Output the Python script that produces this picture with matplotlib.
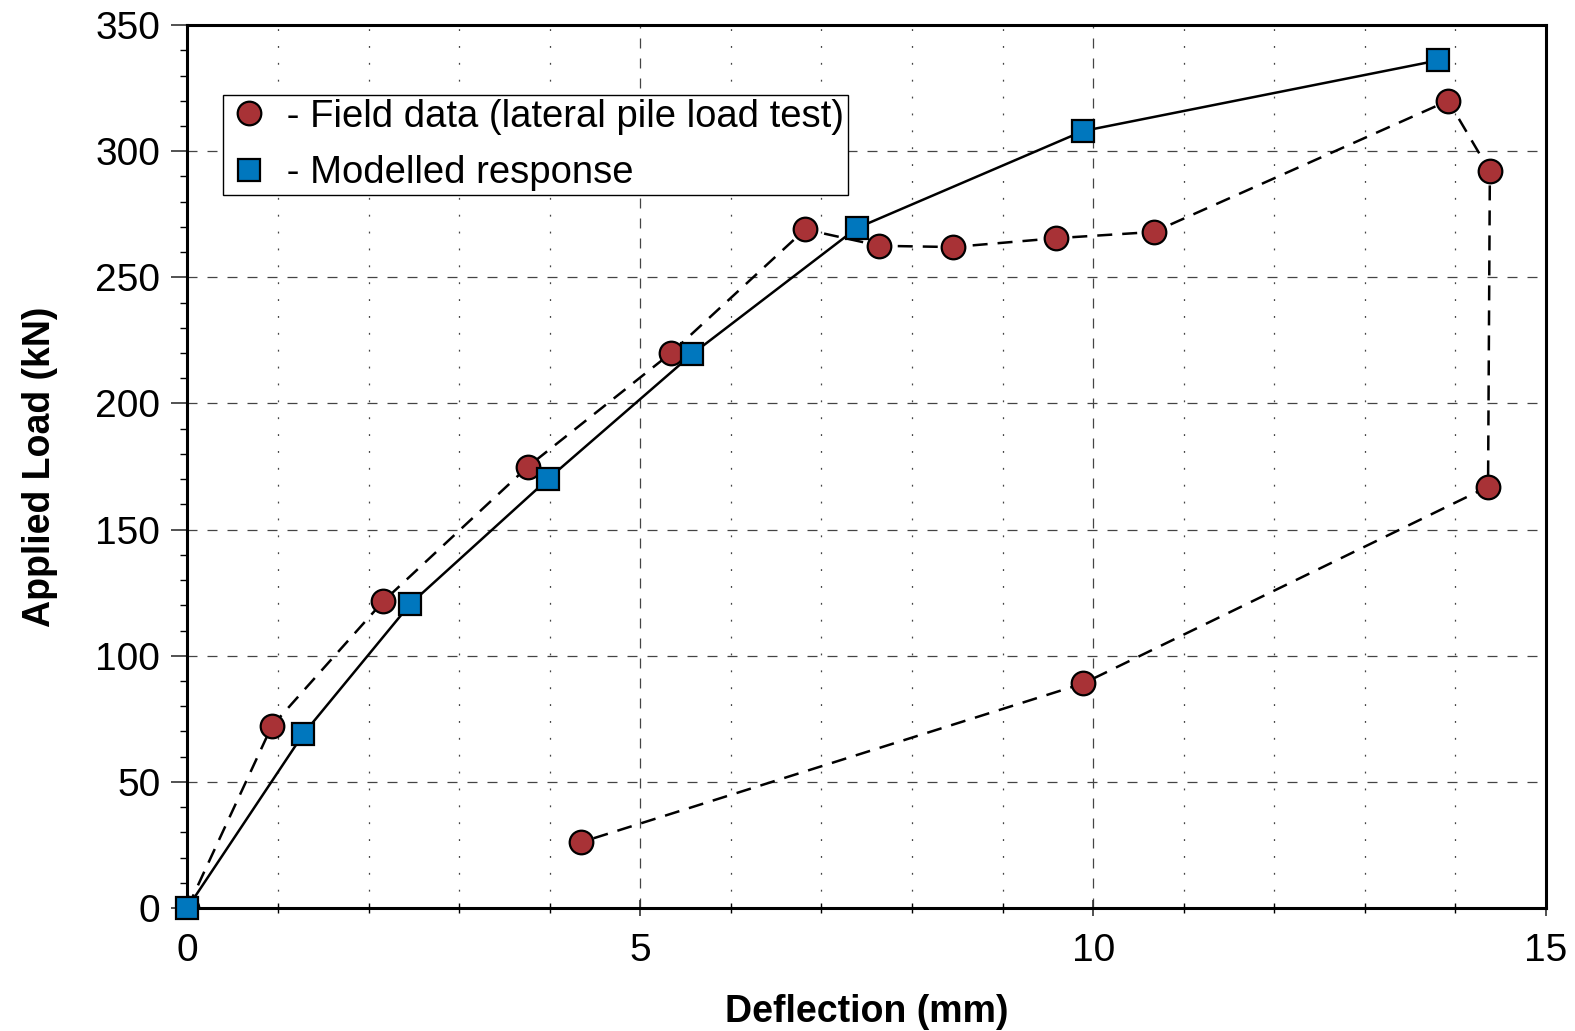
import matplotlib
matplotlib.use("Agg")
import matplotlib.pyplot as plt
from matplotlib.ticker import MultipleLocator

plt.rcParams['font.family'] = ['Liberation Sans', 'DejaVu Sans']

# field data (lateral pile load test), loading then unloading
field_defl = [0, 0.93, 2.16, 3.76, 5.34, 6.82, 7.64, 8.45, 9.59, 10.67,
              13.92, 14.38, 14.36, 9.89, 4.34]
field_load = [0, 72, 121.5, 175, 220, 269, 262.5, 262, 265.5, 268,
              320, 292, 167, 89, 26]

# modelled response
model_defl = [0, 1.28, 2.46, 3.98, 5.57, 7.39, 9.89, 13.81]
model_load = [0, 69, 120.5, 170, 219.5, 269.5, 308, 336]

red = '#a83236'
blue = '#0077be'

fig = plt.figure(figsize=(15.75, 10.31), dpi=100)
ax = fig.add_axes([0.119, 0.1193, 0.8626, 0.8564])

ax.plot(field_defl, field_load, color='k', lw=1.8, ls=(0, (6, 4)), zorder=3)
ax.plot(model_defl, model_load, color='k', lw=1.8, zorder=3)
ax.plot(field_defl, field_load, 'o', ms=17, mfc=red, mec='k', mew=1.6,
        label=' - Field data (lateral pile load test)', zorder=4)
ax.plot(model_defl, model_load, 's', ms=16, mfc=blue, mec='k', mew=1.6,
        label=' - Modelled response', zorder=5, clip_on=False)

ax.set_xlim(0, 15)
ax.set_ylim(0, 350)
ax.xaxis.set_major_locator(MultipleLocator(5))
ax.xaxis.set_minor_locator(MultipleLocator(1))
ax.yaxis.set_major_locator(MultipleLocator(50))
ax.yaxis.set_minor_locator(MultipleLocator(10))

ax.grid(which='major', color='#444444', lw=0.9, ls=(0, (8, 8)))
ax.grid(which='minor', axis='x', color='#444444', lw=0.9, ls=(0, (1.5, 12)))

ax.tick_params(axis='both', which='major', labelsize=28, width=1.2, color='#333333')
ax.tick_params(axis='y', which='major', direction='out', length=11.5, pad=8)
ax.tick_params(axis='y', which='minor', direction='out', length=5, width=1.0)
ax.tick_params(axis='x', which='major', direction='inout', length=11.5, pad=12)
ax.tick_params(axis='x', which='minor', direction='inout', length=7, width=1.0)

for s in ax.spines.values():
    s.set_linewidth(2.2)

ax.set_xlabel('Deflection (mm)', fontsize=27, fontweight='bold', labelpad=18)
ax.set_ylabel('Applied Load (kN)', fontsize=27, fontweight='bold', labelpad=27)

leg = ax.legend(loc='upper left', bbox_to_anchor=(0.026, 0.921), borderaxespad=0,
                fontsize=27.5, frameon=True, fancybox=False, handlelength=1.2,
                handletextpad=0.1, borderpad=0.1, labelspacing=0.54)
leg.get_frame().set_edgecolor('k')
leg.get_frame().set_linewidth(1.0)
leg.get_frame().set_alpha(1)

fig.savefig('out.png', dpi=100)
